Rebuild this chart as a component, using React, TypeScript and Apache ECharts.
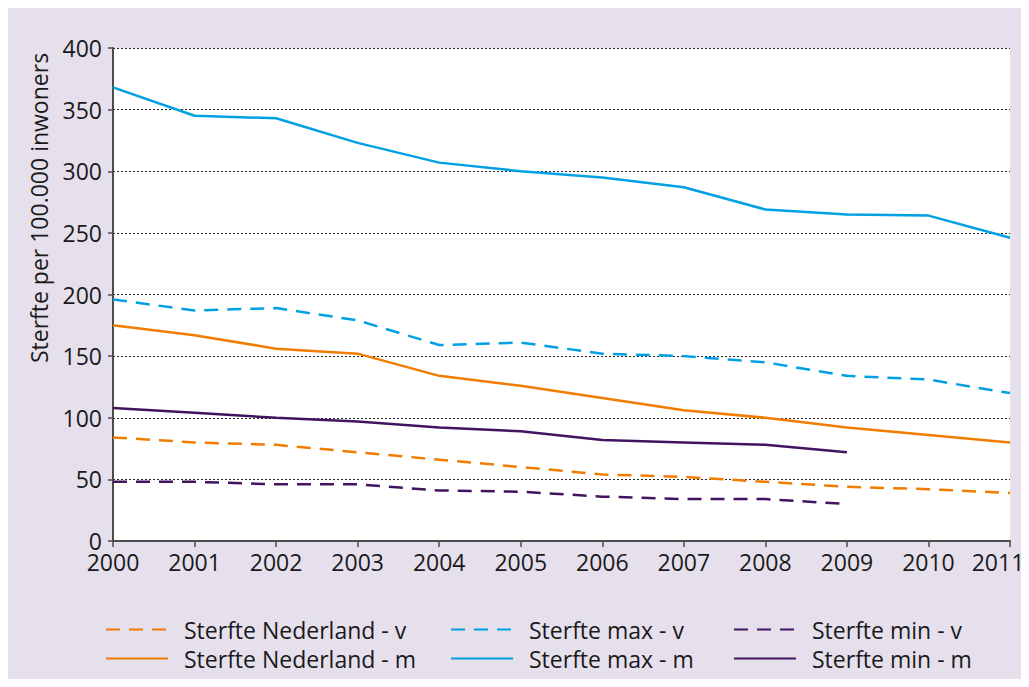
import React, { useEffect, useRef } from "react";
import * as echarts from "echarts";

const years = ["2000", "2001", "2002", "2003", "2004", "2005", "2006", "2007", "2008", "2009", "2010", "2011"];
const nlV = [84, 80, 78, 72, 66, 60, 54, 52, 48, 44, 42, 39];
const nlM = [175, 167, 156, 152, 134, 126, 116, 106, 100, 92, 86, 80];
const maxV = [196, 187, 189, 179, 159, 161, 152, 150, 145, 134, 131, 120];
const maxM = [368, 345, 343, 323, 307, 300, 295, 287, 269, 265, 264, 246];
const minV = [48, 48, 46, 46, 41, 40, 36, 34, 34, 30];
const minM = [108, 104, 100, 97, 92, 89, 82, 80, 78, 72];
const yTicks = [0, 50, 100, 150, 200, 250, 300, 350, 400];

const ORANGE = "#f07d00";
const BLUE = "#00a0e2";
const PURPLE = "#42145f";
const FONT = "Open Sans";
const DASH = [14, 9];

export default function App() {
  const ref = useRef<HTMLDivElement>(null);
  useEffect(() => {
    if (!ref.current) return;
    const chart = echarts.init(ref.current, null, { renderer: "svg" });
    const mk = (name: string, data: number[], color: string, dashed: boolean) => ({
      name,
      type: "line",
      data,
      symbol: "none",
      showSymbol: false,
      lineStyle: { color, width: 2.5, type: dashed ? DASH : "solid" },
      itemStyle: { color },
    });
    const legendBase = {
      orient: "vertical",
      top: 610,
      padding: 0,
      itemWidth: 62,
      itemHeight: 14,
      itemGap: 6,
      itemStyle: { opacity: 0 },
      textStyle: { fontFamily: FONT, fontSize: 23, color: "#1a1a1a", lineHeight: 22, padding: [0, 0, 0, 11] },
    };
    const lastYear = years[years.length - 1];
    chart.setOption({
      animation: false,
      backgroundColor: "#e6e0ed",
      textStyle: { fontFamily: FONT },
      grid: {
        left: 105,
        right: 19,
        top: 40,
        bottom: 146,
        show: true,
        backgroundColor: "#ffffff",
        borderWidth: 0,
        outerBoundsMode: "none",
        containLabel: false,
      },
      legend: [
        { ...legendBase, left: 97, data: ["Sterfte Nederland - v", "Sterfte Nederland - m"] },
        { ...legendBase, left: 442, data: ["Sterfte max - v", "Sterfte max - m"] },
        { ...legendBase, left: 725, data: ["Sterfte min - v", "Sterfte min - m"] },
      ],
      graphic: [
        {
          type: "text",
          x: 31,
          y: 200,
          rotation: Math.PI / 2,
          style: {
            text: "Sterfte per 100.000 inwoners",
            fontFamily: FONT,
            fontSize: 23,
            fill: "#1a1a1a",
            align: "center",
            verticalAlign: "middle",
          },
        },
      ],
      xAxis: {
        type: "category",
        data: years,
        boundaryGap: false,
        axisLine: { lineStyle: { color: "#4d4d4d", width: 2 } },
        axisTick: { show: true, interval: 0, length: 6, lineStyle: { color: "#4d4d4d", width: 1.5 } },
        axisLabel: {
          interval: 0,
          hideOverlap: false,
          color: "#1a1a1a",
          fontSize: 23,
          lineHeight: 22,
          margin: 10,
          fontFamily: FONT,
          formatter: (v: string) => (v === lastYear ? "{last|" + v + "}" : v),
          rich: { last: { fontSize: 23, lineHeight: 22, fontFamily: FONT, color: "#1a1a1a", padding: [0, 24, 0, 0] } },
        },
        splitLine: { show: false },
      },
      yAxis: {
        type: "value",
        min: 0,
        max: 400,
        interval: 50,
        axisLine: { show: true, lineStyle: { color: "#4d4d4d", width: 2 } },
        axisTick: { show: true, length: 5, lineStyle: { color: "#4d4d4d", width: 1.5 } },
        axisLabel: {
          color: "#1a1a1a",
          fontSize: 23,
          lineHeight: 18,
          margin: 11,
          fontFamily: FONT,
          formatter: (v: number) => (yTicks.includes(v) ? String(v) : ""),
        },
        splitLine: { show: true, lineStyle: { color: "#222", width: 1, type: [2, 2] } },
      },
      series: [
        mk("Sterfte Nederland - v", nlV, ORANGE, true),
        mk("Sterfte Nederland - m", nlM, ORANGE, false),
        mk("Sterfte max - v", maxV, BLUE, true),
        mk("Sterfte max - m", maxM, BLUE, false),
        mk("Sterfte min - v", minV, PURPLE, true),
        mk("Sterfte min - m", minM, PURPLE, false),
      ],
    });
    return () => chart.dispose();
  }, []);
  return <div ref={ref} style={{ width: 1021, height: 679, marginBottom: -8 }} />;
}
